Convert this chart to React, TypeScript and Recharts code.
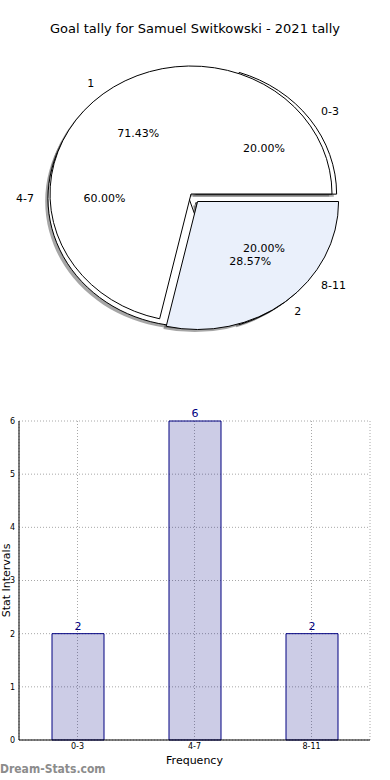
import React from 'react';
import { PieChart, Pie, Cell, BarChart, Bar, XAxis, YAxis, CartesianGrid, LabelList } from 'recharts';

// ---- Data ----
const outerNames = ['0-3', '4-7', '8-11'];
const outerValues = [2, 6, 2];
const innerNames = ['1', '2'];
const innerValues = [5, 2];
const barCategories = ['0-3', '4-7', '8-11'];
const barValues = [2, 6, 2];
const yTicks = [0, 1, 2, 3, 4, 5, 6];

const outerData = outerNames.map((name, i) => ({ name, value: outerValues[i] }));
const innerData = innerNames.map((name, i) => ({ name, value: innerValues[i] }));
const barData = barCategories.map((name, i) => ({ name, value: barValues[i] }));

// ---- Styles ----
const FONT = '"DejaVu Sans", sans-serif';
const RY = 128 / 141;
const RAD = Math.PI / 180;
const EXPLODE_OUTER: Record<string, number> = { '0-3': 0.058, '4-7': 0, '8-11': 0.058 };
const EXPLODE_INNER: Record<string, number> = { '1': 0, '2': 0.075 };
const outerFills = ['#ffffff', '#ffffff', '#ffffff'];
const innerFills = ['#ffffff', '#eaf0fb'];

function ellPath(cx: number, cy: number, rx: number, ry: number, a0: number, a1: number) {
  const x0 = cx + rx * Math.cos(a0 * RAD);
  const y0 = cy - ry * Math.sin(a0 * RAD);
  const x1 = cx + rx * Math.cos(a1 * RAD);
  const y1 = cy - ry * Math.sin(a1 * RAD);
  const large = Math.abs(a1 - a0) > 180 ? 1 : 0;
  return `M${cx},${cy} L${x0},${y0} A${rx},${ry} 0 ${large} 0 ${x1},${y1} Z`;
}

function getName(p: any) {
  return (p && p.payload && p.payload.name) ?? p.name;
}

function makeShape(explode: Record<string, number>, kind: 'shadow' | 'wedge' | 'none') {
  return (props: any) => {
    if (kind === 'none') return <g />;
    const { cx, cy, outerRadius, startAngle, endAngle, fill } = props;
    const nm = getName(props);
    const e = explode[nm] ?? 0;
    const mid = (startAngle + endAngle) / 2;
    const rx = outerRadius;
    const ry = outerRadius * RY;
    const ox = cx + e * rx * Math.cos(mid * RAD);
    const oy = cy - e * ry * Math.sin(mid * RAD);
    if (kind === 'shadow') {
      return <path d={ellPath(ox - 2.8, oy + 2.6, rx, ry, startAngle, endAngle)} fill="#4d4d4d" fillOpacity={0.5} stroke="none" />;
    }
    return <path d={ellPath(ox, oy, rx, ry, startAngle, endAngle)} fill={fill} stroke="#000" strokeWidth={1} strokeLinejoin="round" />;
  };
}

function makeLabel(explode: Record<string, number>) {
  return (p: any) => {
    const { cx, cy, midAngle, outerRadius, percent } = p;
    const nm = getName(p);
    const e = explode[nm] ?? 0;
    const c = Math.cos(midAngle * RAD);
    const s = Math.sin(midAngle * RAD);
    const rx = outerRadius;
    const ry = outerRadius * RY;
    const ox = cx + e * rx * c;
    const oy = cy - e * ry * s;
    return (
      <g>
        <text x={ox + 1.1 * rx * c} y={oy - 1.1 * ry * s} textAnchor={c > 0 ? 'start' : 'end'} dominantBaseline="central" fontSize={11} fontFamily={FONT} fill="#000">{nm}</text>
        <text x={ox + 0.6 * rx * c} y={oy - 0.6 * ry * s} textAnchor="middle" dominantBaseline="central" fontSize={11} fontFamily={FONT} fill="#000">{(percent * 100).toFixed(2)}%</text>
      </g>
    );
  };
}

const A_CX = 189, A_CY = 198.5, B_CX = 191, B_CY = 194, R = 141;
const ZERO = { top: 0, right: 0, bottom: 0, left: 0 };

export default function App() {
  return (
    <div style={{ position: 'absolute', left: 0, top: 0, width: 390, height: 780, background: '#fff', fontFamily: FONT, overflow: 'hidden' }}>
      <div style={{ position: 'absolute', left: 0, top: 21, width: 390, textAlign: 'center', fontSize: 13, color: '#000' }}>
        Goal tally for Samuel Switkowski - 2021 tally
      </div>
      <div style={{ position: 'absolute', left: 0, top: 0 }}>
        <PieChart width={390} height={360} margin={ZERO}>
          <Pie data={outerData} dataKey="value" nameKey="name" cx={A_CX} cy={A_CY} outerRadius={R} isAnimationActive={false} labelLine={false}
            shape={makeShape(EXPLODE_OUTER, 'shadow')} inactiveShape={makeShape(EXPLODE_OUTER, 'shadow')} activeShape={makeShape(EXPLODE_OUTER, 'shadow')} />
          <Pie data={innerData} dataKey="value" nameKey="name" cx={B_CX} cy={B_CY} outerRadius={R} isAnimationActive={false} labelLine={false}
            shape={makeShape(EXPLODE_INNER, 'shadow')} inactiveShape={makeShape(EXPLODE_INNER, 'shadow')} activeShape={makeShape(EXPLODE_INNER, 'shadow')} />
          <Pie data={outerData} dataKey="value" nameKey="name" cx={A_CX} cy={A_CY} outerRadius={R} isAnimationActive={false} labelLine={false}
            shape={makeShape(EXPLODE_OUTER, 'wedge')} inactiveShape={makeShape(EXPLODE_OUTER, 'wedge')} activeShape={makeShape(EXPLODE_OUTER, 'wedge')}>
            {outerData.map((d, i) => <Cell key={d.name} fill={outerFills[i]} />)}
          </Pie>
          <Pie data={innerData} dataKey="value" nameKey="name" cx={B_CX} cy={B_CY} outerRadius={R} isAnimationActive={false} labelLine={false}
            shape={makeShape(EXPLODE_INNER, 'wedge')} inactiveShape={makeShape(EXPLODE_INNER, 'wedge')} activeShape={makeShape(EXPLODE_INNER, 'wedge')}>
            {innerData.map((d, i) => <Cell key={d.name} fill={innerFills[i]} />)}
          </Pie>
          <Pie data={outerData} dataKey="value" nameKey="name" cx={A_CX} cy={A_CY} outerRadius={R} isAnimationActive={false} labelLine={false}
            shape={makeShape(EXPLODE_OUTER, 'none')} inactiveShape={makeShape(EXPLODE_OUTER, 'none')} activeShape={makeShape(EXPLODE_OUTER, 'none')}
            label={makeLabel(EXPLODE_OUTER)} />
          <Pie data={innerData} dataKey="value" nameKey="name" cx={B_CX} cy={B_CY} outerRadius={R} isAnimationActive={false} labelLine={false}
            shape={makeShape(EXPLODE_INNER, 'none')} inactiveShape={makeShape(EXPLODE_INNER, 'none')} activeShape={makeShape(EXPLODE_INNER, 'none')}
            label={makeLabel(EXPLODE_INNER)} />
        </PieChart>
      </div>
      <div style={{ position: 'absolute', left: 0, top: 400 }}>
        <BarChart width={390} height={380} data={barData} margin={{ top: 21, right: 20, bottom: 0, left: 0 }}>
          <CartesianGrid stroke="#a8a8a8" strokeDasharray="1 2" />
          <XAxis dataKey="name" height={40} tickSize={0} tickMargin={3} interval={0} tickLine={false}
            tick={{ fontSize: 8, fill: '#000', fontFamily: FONT }} axisLine={{ stroke: '#000' }}
            label={{
              content: (p: any) => {
                const vb = p.viewBox || { x: 19, y: 340, width: 351, height: 40 };
                return <text x={vb.x + vb.width / 2} y={vb.y + 20} textAnchor="middle" dominantBaseline="central" fontSize={11} fontFamily={FONT} fill="#000">Frequency</text>;
              },
            }} />
          <XAxis xAxisId="top" dataKey="name" orientation="top" height={0} tick={false} tickLine={false} axisLine={{ stroke: '#000' }} />
          <YAxis domain={[0, 6]} ticks={yTicks} width={19} tickSize={0} tickMargin={4} tickLine={false}
            tick={{ fontSize: 8, fill: '#000', fontFamily: FONT }} axisLine={{ stroke: '#000' }}
            label={{
              content: (p: any) => {
                const vb = p.viewBox || { x: 0, y: 21, width: 19, height: 319 };
                const cx = vb.x + 6;
                const cy = vb.y + vb.height / 2;
                return <text x={cx} y={cy} transform={`rotate(-90 ${cx} ${cy})`} textAnchor="middle" dominantBaseline="central" fontSize={11} fontFamily={FONT} fill="#000">Stat Intervals</text>;
              },
            }} />
          <YAxis yAxisId="r" orientation="right" width={0} domain={[0, 6]} tick={false} tickLine={false} axisLine={{ stroke: '#000' }} />
          <Bar dataKey="value" fill="#000080" fillOpacity={0.2} stroke="#000080" strokeWidth={1} barSize={52} isAnimationActive={false}>
            <LabelList dataKey="value" position="top" offset={4} fill="#000080" fontSize={11} fontFamily={FONT} />
          </Bar>
        </BarChart>
      </div>
      <div style={{ position: 'absolute', left: 0, top: 762, fontSize: 12, fontWeight: 'bold', fontFamily: '"DejaVu Sans Condensed", "DejaVu Sans", sans-serif', color: '#8c8c8c', whiteSpace: 'nowrap' }}>
        Dream-Stats.com
      </div>
    </div>
  );
}
